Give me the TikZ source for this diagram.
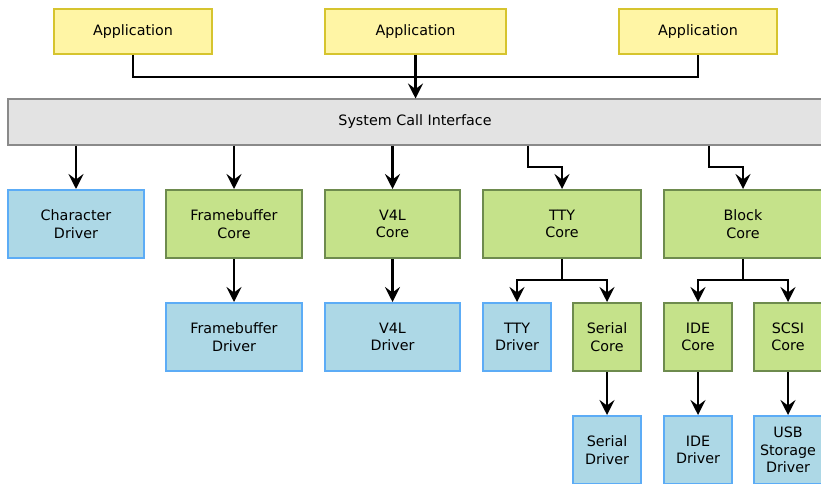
\documentclass[tikz,border=0pt]{standalone}
\usepackage{fontspec}
\setmainfont{DejaVu Sans}
\usetikzlibrary{arrows.meta}

\begin{document}
\begin{tikzpicture}[x=1pt,y=-1pt,
    box/.style={draw, line width=2pt, align=center, inner sep=0pt,
      font=\fontsize{14.3}{17.5}\selectfont},
    app/.style={box, fill=appfill, draw=appline, minimum width=158pt, minimum height=45pt},
    sysbox/.style={box, fill=sysfill, draw=sysline, minimum width=814pt, minimum height=45pt},
    core/.style={box, fill=corefill, draw=coreline, minimum height=68pt},
    drv/.style={box, fill=drvfill, draw=drvline, minimum height=68pt},
    link/.style={line width=2.2pt, -{Stealth[length=15pt,width=15pt,inset=5.5pt]}}]
  \definecolor{appfill}{RGB}{255,245,165}
  \definecolor{appline}{RGB}{214,196,46}
  \definecolor{sysfill}{RGB}{227,227,227}
  \definecolor{sysline}{RGB}{138,138,138}
  \definecolor{corefill}{RGB}{197,226,138}
  \definecolor{coreline}{RGB}{110,139,78}
  \definecolor{drvfill}{RGB}{173,216,230}
  \definecolor{drvline}{RGB}{92,172,246}

  \useasboundingbox (0,0) rectangle (821,484);

  % applications
  \node[app] (app1) at (133,31.5) {Application};
  \node[app, minimum width=181pt] (app2) at (415.5,31.5) {Application};
  \node[app] (app3) at (698,31.5) {Application};

  \node[sysbox] (sci) at (415,122) {System Call Interface};

  % second row
  \node[drv, minimum width=136pt] (chardrv) at (76,224) {Character\\Driver};
  \node[core, minimum width=136pt] (fbcore) at (234,224) {Framebuffer\\Core};
  \node[core, minimum width=135pt] (vcore) at (392.5,224) {V4L\\Core};
  \node[core, minimum width=158pt] (ttycore) at (562,224) {TTY\\Core};
  \node[core, minimum width=158pt] (blkcore) at (743,224) {Block\\Core};

  % third row
  \node[drv, minimum width=136pt] (fbdrv) at (234,337) {Framebuffer\\Driver};
  \node[drv, minimum width=135pt] (vdrv) at (392.5,337) {V4L\\Driver};
  \node[drv, minimum width=68pt] (ttydrv) at (517,337) {TTY\\Driver};
  \node[core, minimum width=68pt] (sercore) at (607,337) {Serial\\Core};
  \node[core, minimum width=68pt] (idecore) at (698,337) {IDE\\Core};
  \node[core, minimum width=68pt] (scsicore) at (788,337) {SCSI\\Core};

  % fourth row
  \node[drv, minimum width=68pt] (serdrv) at (607,450) {Serial\\Driver};
  \node[drv, minimum width=68pt] (idedrv) at (698,450) {IDE\\Driver};
  \node[drv, minimum width=68pt] (usbdrv) at (788,450) {USB\\Storage\\Driver};

  % bends
  \coordinate (bus) at (415.5,77);
  \coordinate (ttybend) at (528,167);
  \coordinate (blkbend) at (709,167);
  \coordinate (ttyfork) at (562,280);
  \coordinate (blkfork) at (743,280);

  \draw[line width=2.2pt] (app1.south) |- (bus) -| (app3.south);
  \draw[link] (app2.south) -- (sci.north -| app2.south);

  \draw[link] (sci.south -| chardrv.north) -- (chardrv.north);
  \draw[link] (sci.south -| fbcore.north) -- (fbcore.north);
  \draw[link] (sci.south -| vcore.north) -- (vcore.north);
  \draw[link] (sci.south -| ttybend) -- (ttybend) -| (ttycore.north);
  \draw[link] (sci.south -| blkbend) -- (blkbend) -| (blkcore.north);

  \draw[link] (fbcore) -- (fbdrv);
  \draw[link] (vcore) -- (vdrv);
  \draw[line width=2.2pt] (ttycore.south) -- (ttyfork);
  \draw[link] (ttyfork) -| (ttydrv.north);
  \draw[link] (ttyfork) -| (sercore.north);
  \draw[line width=2.2pt] (blkcore.south) -- (blkfork);
  \draw[link] (blkfork) -| (idecore.north);
  \draw[link] (blkfork) -| (scsicore.north);

  \draw[link] (sercore) -- (serdrv);
  \draw[link] (idecore) -- (idedrv);
  \draw[link] (scsicore) -- (usbdrv);
\end{tikzpicture}
\end{document}
